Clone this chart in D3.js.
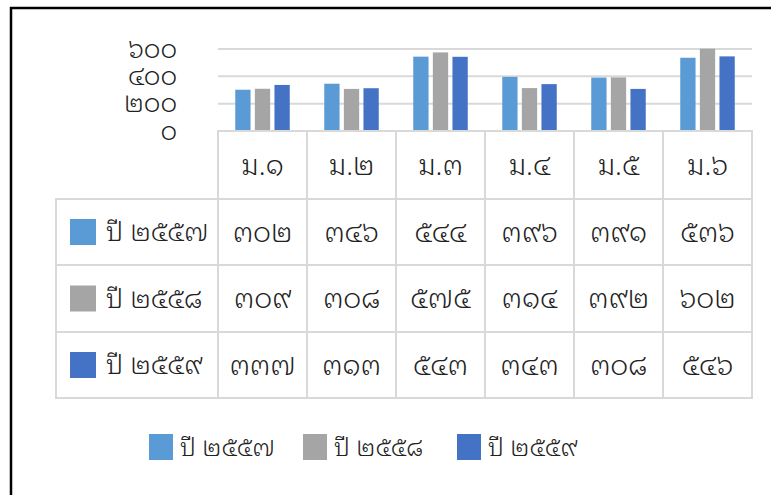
<!DOCTYPE html>
<html lang="th">
<head>
<meta charset="utf-8" />
<title>Chart</title>
<script src="https://d3js.org/d3.v7.min.js"></script>
<style>
  body { margin: 0; background: #fff; }
  text { font-family: "Noto Sans Thai Looped", "Noto Sans Thai", sans-serif; font-weight: 300; fill: #222; }
  .grid line { stroke: #d9d9d9; stroke-width: 2px; }
  .cell { fill: none; stroke: #d9d9d9; stroke-width: 2px; }
</style>
</head>
<body>
<script>
// data
var categories = ["ม.๑", "ม.๒", "ม.๓", "ม.๔", "ม.๕", "ม.๖"];
var seriesNames = ["ปี ๒๕๕๗", "ปี ๒๕๕๘", "ปี ๒๕๕๙"];
var y2557 = [302, 346, 544, 396, 391, 536];
var y2558 = [309, 308, 575, 314, 392, 602];
var y2559 = [337, 313, 543, 343, 308, 546];
var yTicks = [0, 200, 400, 600];
var colors = ["#5b9bd5", "#a5a5a5", "#4472c4"];

var values = [y2557, y2558, y2559];

var thaiDigits = "๐๑๒๓๔๕๖๗๘๙";
function thai(n) {
  return String(n).replace(/[0-9]/g, function(c) { return thaiDigits[+c]; });
}

var W = 771, H = 495;
var fs = 28;
var svg = d3.select("body").append("svg")
    .attr("width", W)
    .attr("height", H);

// outer frame
svg.append("rect")
    .attr("x", 11).attr("y", 8)
    .attr("width", W).attr("height", H)
    .attr("fill", "#fff")
    .attr("stroke", "#000")
    .attr("stroke-width", 2.5);

var plot = {left: 218, right: 752, top: 49, bottom: 131};
var tableLeft = 56;
var rowEdges = [131, 199, 265, 332, 398];

var x = d3.scaleBand()
    .domain(categories)
    .range([plot.left, plot.right]);

var x1 = d3.scaleBand()
    .domain(d3.range(3))
    .range([0, x.bandwidth()])
    .paddingInner(0.22)
    .paddingOuter(0.88);

var y = d3.scaleLinear()
    .domain([0, 600])
    .range([plot.bottom, plot.top]);

// gridlines
svg.append("g")
    .attr("class", "grid")
    .selectAll("line")
    .data(yTicks.filter(function(d) { return d > 0; }))
    .enter().append("line")
    .attr("x1", plot.left).attr("x2", plot.right)
    .attr("y1", function(d) { return y(d); })
    .attr("y2", function(d) { return y(d); });

// y axis labels
var yAxis = d3.axisLeft(y)
    .tickValues(yTicks)
    .tickSize(0)
    .tickPadding(0)
    .tickFormat(thai);
var yg = svg.append("g")
    .attr("transform", "translate(177,0)")
    .call(yAxis);
yg.select(".domain").remove();
yg.selectAll("text")
    .attr("font-size", 26)
    .attr("font-family", null)
    .attr("fill", "#222");

// bars
var groups = svg.append("g").selectAll("g")
    .data(categories)
    .enter().append("g")
    .attr("transform", function(d) { return "translate(" + x(d) + ",0)"; });

groups.selectAll("rect")
    .data(function(d, i) { return values.map(function(s, j) { return {s: j, v: s[i]}; }); })
    .enter().append("rect")
    .attr("x", function(d) { return x1(d.s); })
    .attr("width", x1.bandwidth())
    .attr("y", function(d) { return y(d.v); })
    .attr("height", function(d) { return y(0) - y(d.v); })
    .attr("fill", function(d) { return colors[d.s]; });

// data table
var table = svg.append("g");

// header row cells
categories.forEach(function(c) {
  table.append("rect").attr("class", "cell")
      .attr("x", x(c)).attr("y", rowEdges[0])
      .attr("width", x.bandwidth()).attr("height", rowEdges[1] - rowEdges[0]);
  table.append("text")
      .attr("x", x(c) + x.bandwidth() / 2)
      .attr("y", (rowEdges[0] + rowEdges[1]) / 2)
      .attr("dy", "0.35em")
      .attr("text-anchor", "middle")
      .attr("font-size", fs)
      .text(c);
});

seriesNames.forEach(function(name, j) {
  var top = rowEdges[j + 1], bot = rowEdges[j + 2];
  table.append("rect").attr("class", "cell")
      .attr("x", tableLeft).attr("y", top)
      .attr("width", plot.left - tableLeft).attr("height", bot - top);
  table.append("rect")
      .attr("x", 70).attr("y", (top + bot) / 2 - 13)
      .attr("width", 26).attr("height", 26)
      .attr("fill", colors[j]);
  table.append("text")
      .attr("x", 106).attr("y", (top + bot) / 2)
      .attr("dy", "0.35em")
      .attr("font-size", 27)
      .text(name);
  categories.forEach(function(c, i) {
    table.append("rect").attr("class", "cell")
        .attr("x", x(c)).attr("y", top)
        .attr("width", x.bandwidth()).attr("height", bot - top);
    table.append("text")
        .attr("x", x(c) + x.bandwidth() / 2)
        .attr("y", (top + bot) / 2)
        .attr("dy", "0.35em")
        .attr("text-anchor", "middle")
        .attr("font-size", fs)
        .text(thai(values[j][i]));
  });
});

// legend
var legendX = [149, 303, 457];
var legend = svg.append("g").selectAll("g")
    .data(seriesNames)
    .enter().append("g")
    .attr("transform", function(d, i) { return "translate(" + legendX[i] + ",434)"; });
legend.append("rect")
    .attr("width", 24).attr("height", 26)
    .attr("fill", function(d, i) { return colors[i]; });
legend.append("text")
    .attr("x", 31).attr("y", 13)
    .attr("dy", "0.35em")
    .attr("font-size", 25)
    .text(function(d) { return d; });
</script>
</body>
</html>
